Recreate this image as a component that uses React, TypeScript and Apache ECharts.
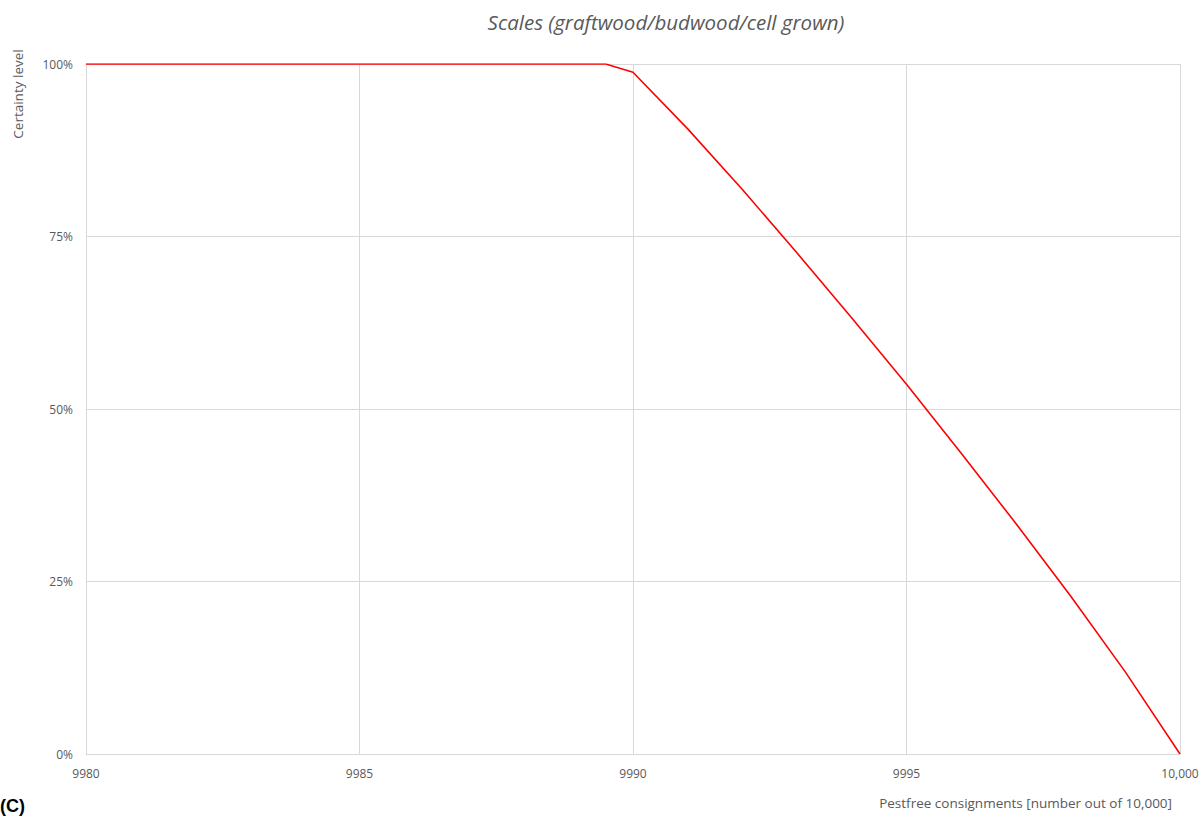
import React, { useEffect, useRef } from "react";
import * as echarts from "echarts";

const xValues = [9980, 9981, 9982, 9983, 9984, 9985, 9986, 9987, 9988, 9989, 9989.5, 9990, 9991, 9992, 9993, 9994, 9995, 9996, 9997, 9998, 9999, 10000];
const certainty = [100, 100, 100, 100, 100, 100, 100, 100, 100, 100, 100, 98.8, 90.6, 81.8, 72.6, 63.2, 53.6, 43.6, 33.4, 22.9, 11.9, 0];
const yTicks = [0, 25, 50, 75, 100];

const titleText = "Scales (graftwood/budwood/cell grown)";
const yName = "Certainty level";
const xName = "Pestfree consignments [number out of 10,000]";
const panelLabel = "(C)";

const FONT = "'Open Sans', 'Noto Sans', sans-serif";
const TXT = "#595959";
const GRID = "#d9d9d9";

export default function App() {
  const ref = useRef<HTMLDivElement>(null);
  useEffect(() => {
    if (!ref.current) return;
    const chart = echarts.init(ref.current, null, { renderer: "svg" });
    chart.setOption({
      animation: false,
      backgroundColor: "#ffffff",
      grid: { left: 86, right: 24, top: 64, bottom: 69, containLabel: false },
      xAxis: {
        type: "value",
        min: 9980,
        max: 10000,
        interval: 5,
        axisLine: { show: true, lineStyle: { color: GRID, width: 1 } },
        axisTick: { show: false },
        splitLine: { show: true, lineStyle: { color: GRID, width: 1 } },
        axisLabel: {
          color: TXT,
          fontFamily: FONT,
          fontSize: 12,
          margin: 13,
          formatter: (v: number) => (v >= 10000 ? v.toLocaleString("en-US") : String(v)),
        },
      },
      yAxis: {
        type: "value",
        min: yTicks[0],
        max: yTicks[yTicks.length - 1],
        interval: 25,
        axisLine: { show: true, lineStyle: { color: GRID, width: 1 } },
        axisTick: { show: false },
        splitLine: { show: true, lineStyle: { color: GRID, width: 1 } },
        axisLabel: {
          color: TXT,
          fontFamily: FONT,
          fontSize: 12,
          margin: 13,
          formatter: (v: number) => `${v}%`,
        },
      },
      series: [
        {
          type: "line",
          data: xValues.map((x, i) => [x, certainty[i]]),
          showSymbol: false,
          symbol: "none",
          lineStyle: { color: "#ff0000", width: 1.6 },
          z: 5,
        },
      ],
      graphic: [
        {
          type: "text",
          x: 666,
          y: 22,
          style: {
            text: titleText,
            fill: TXT,
            font: `italic 20.5px ${FONT}`,
            textAlign: "center",
            textVerticalAlign: "middle",
          },
        },
        {
          type: "text",
          x: 18,
          y: 94,
          rotation: Math.PI / 2,
          style: {
            text: yName,
            fill: TXT,
            font: `13.5px ${FONT}`,
            textAlign: "center",
            textVerticalAlign: "middle",
          },
        },
        {
          type: "text",
          x: 1172,
          y: 803,
          style: {
            text: xName,
            fill: TXT,
            font: `13.5px ${FONT}`,
            textAlign: "right",
            textVerticalAlign: "middle",
          },
        },
        {
          type: "text",
          x: 0,
          y: 806,
          style: {
            text: panelLabel,
            fill: "#000000",
            font: `bold 18px 'Liberation Sans', Arial, sans-serif`,
            textAlign: "left",
            textVerticalAlign: "middle",
          },
        },
      ],
    });
    return () => chart.dispose();
  }, []);
  return (
    <div
      ref={ref}
      style={{ position: "fixed", left: 0, top: 0, width: 1204, height: 823 }}
    />
  );
}
